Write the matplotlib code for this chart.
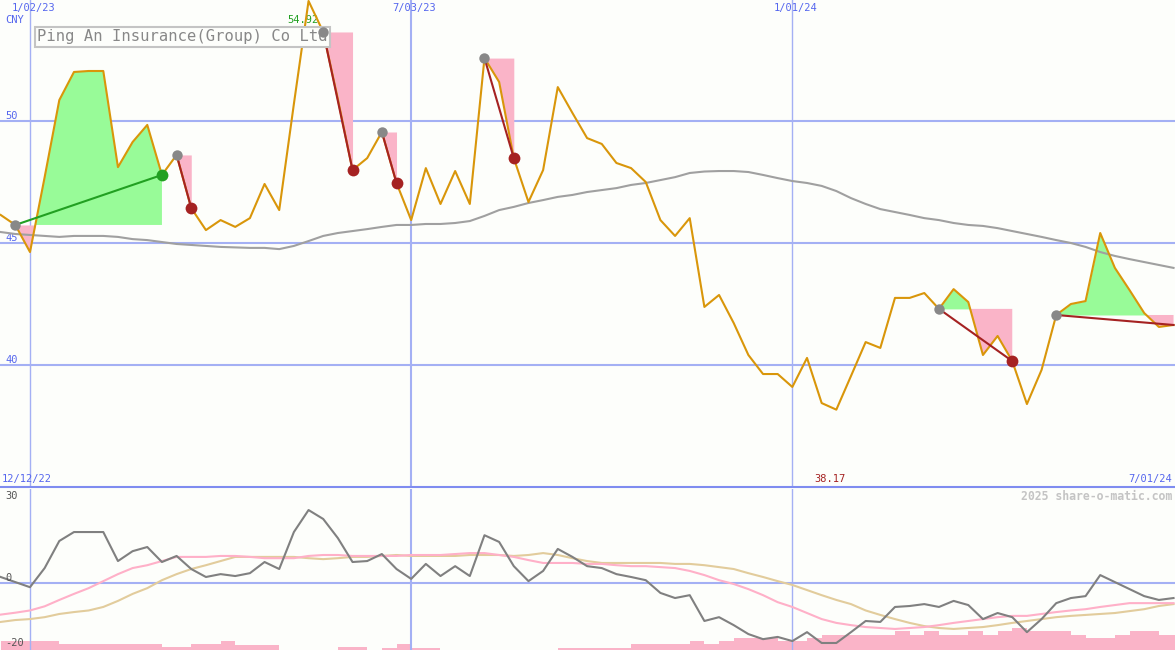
import numpy as np
import pandas as pd
import matplotlib
matplotlib.use("Agg")
import matplotlib.pyplot as plt
import matplotlib.dates as mdates
from matplotlib.lines import Line2D
from matplotlib.transforms import blended_transform_factory

# weekly closes, Ping An Insurance (CNY)
weeks = pd.date_range("2022-12-19", periods=81, freq="7D")

price = [46.15, 45.74, 44.63, 47.70, 50.86, 52.01, 52.05, 52.05, 48.11, 49.14,
         49.84, 47.79, 48.61, 46.43, 45.53, 45.94, 45.66, 46.02, 47.42, 46.35,
         50.70, 54.92, 53.65, 50.90, 47.99, 48.48, 49.55, 47.46, 45.94, 48.07,
         46.60, 47.95, 46.60, 52.58, 51.60, 48.48, 46.68, 47.99, 51.39, 50.33,
         49.30, 49.06, 48.28, 48.07, 47.50, 45.94, 45.29, 46.02, 42.38, 42.87,
         41.72, 40.41, 39.63, 39.63, 39.10, 40.29, 38.44, 38.17, 39.55, 40.94,
         40.70, 42.75, 42.75, 42.95, 42.30, 43.11, 42.58, 40.41, 41.19, 40.16,
         38.40, 39.80, 42.05, 42.50, 42.62, 45.41, 43.98, 43.07, 42.13, 41.56, 41.64]

ma_long = [45.45, 45.37, 45.33, 45.29, 45.25, 45.29, 45.29, 45.29, 45.25, 45.16,
           45.12, 45.04, 44.96, 44.92, 44.88, 44.84, 44.82, 44.80, 44.80, 44.75,
           44.88, 45.08, 45.29, 45.41, 45.49, 45.57, 45.66, 45.74, 45.74, 45.78,
           45.78, 45.82, 45.90, 46.11, 46.35, 46.48, 46.64, 46.76, 46.89, 46.97,
           47.09, 47.17, 47.25, 47.38, 47.46, 47.58, 47.70, 47.87, 47.93, 47.95,
           47.95, 47.91, 47.79, 47.66, 47.54, 47.46, 47.34, 47.13, 46.84, 46.60,
           46.39, 46.27, 46.15, 46.02, 45.94, 45.82, 45.74, 45.70, 45.61, 45.49,
           45.37, 45.25, 45.12, 45.00, 44.84, 44.63, 44.47, 44.34, 44.22, 44.10, 43.98]

osc = [1.9, 0.3, -1.3, 4.7, 13.2, 16.0, 16.0, 16.0, 6.9, 10.0,
       11.3, 6.6, 8.5, 4.4, 1.9, 2.8, 2.2, 3.1, 6.6, 4.4,
       16.0, 22.9, 20.1, 14.1, 6.6, 6.9, 9.1, 4.4, 1.3, 6.0,
       2.2, 5.3, 2.2, 15.0, 12.9, 5.3, 0.6, 3.8, 10.7, 8.2,
       5.3, 4.7, 2.8, 1.9, 0.9, -3.1, -4.7, -3.8, -11.9, -10.7,
       -13.2, -16.0, -17.6, -16.9, -18.2, -15.4, -18.8, -18.8, -15.4, -11.9,
       -12.2, -7.5, -7.2, -6.6, -7.5, -5.6, -6.9, -11.3, -9.4, -10.7,
       -15.4, -11.3, -6.3, -4.7, -4.1, 2.5, 0.3, -1.9, -4.1, -5.3, -4.7]

osc_fast = [-9.9, -9.3, -8.6, -7.3, -5.3, -3.4, -1.6, 0.6, 2.8, 4.7,
            5.6, 6.9, 8.2, 8.2, 8.2, 8.5, 8.5, 8.2, 7.8, 7.8,
            7.8, 8.5, 8.8, 8.8, 8.5, 8.5, 8.5, 8.5, 8.8, 8.8,
            8.8, 9.1, 9.4, 9.4, 8.8, 8.2, 7.2, 6.3, 6.3, 6.3,
            6.0, 6.0, 5.6, 5.3, 5.3, 5.0, 4.7, 3.8, 2.5, 0.9,
            -0.3, -1.9, -3.8, -6.0, -7.5, -9.4, -11.3, -12.5, -13.2, -13.8,
            -14.1, -14.4, -14.1, -13.8, -13.2, -12.5, -11.9, -11.3, -10.7, -10.3,
            -10.3, -9.7, -9.1, -8.6, -8.2, -7.5, -6.9, -6.3, -6.3, -6.3, -6.3]

osc_slow = [-12.2, -11.6, -11.3, -10.7, -9.7, -9.1, -8.6, -7.5, -5.6, -3.4,
            -1.6, 0.9, 2.8, 4.4, 5.6, 6.9, 8.2, 8.2, 8.2, 8.2,
            8.2, 7.8, 7.5, 7.8, 8.2, 8.2, 8.5, 8.8, 8.5, 8.5,
            8.5, 8.5, 8.8, 8.8, 8.8, 8.5, 8.8, 9.4, 8.8, 7.8,
            6.9, 6.3, 6.3, 6.3, 6.3, 6.3, 6.0, 6.0, 5.6, 5.0,
            4.4, 3.1, 1.9, 0.6, -0.6, -2.2, -3.8, -5.3, -6.6, -8.6,
            -10.0, -11.3, -12.5, -13.5, -14.1, -14.4, -14.1, -13.8, -13.2, -12.5,
            -11.9, -11.3, -10.7, -10.3, -10.0, -9.7, -9.4, -8.8, -8.2, -7.2, -6.6]

# relative volume
volume = [9, 9, 9, 9, 6, 6, 6, 6, 6, 6,
          6, 3, 3, 6, 6, 9, 5, 5, 5, 0,
          0, 0, 0, 3, 3, 0, 2.5, 6, 2, 2,
          0, 0, 0, 0, 0, 0, 0, 0, 2, 2,
          2, 2, 2, 6, 6, 6, 6, 9, 6, 9,
          12, 12, 12, 9, 9, 12, 15, 15, 15, 15,
          15, 19, 15, 19, 15, 15, 19, 15, 19, 22,
          19, 19, 19, 15, 12, 12, 15, 19, 19, 15, 15]

# trade signals (index into weeks); last one still open
entries = [1, 12, 22, 26, 33, 64, 72]
exits = [11, 13, 24, 27, 35, 69, 80]
open_last = True

grid_dates = ["2023-01-02", "2023-07-03", "2024-01-01"]
grid_labels = ["1/02/23", "7/03/23", "1/01/24"]
grid_widths = [1.0, 1.5, 1.0]
range_labels = ["12/12/22", "7/01/24"]
price_levels = [40, 45, 50]
osc_labels = ["30", "0", "-20"]

BG = "#fdfefb"
BLUE = "#5566ee"
GRID = "#a4b0f4"
MONO = "DejaVu Sans Mono"
FS = 7.5

x = mdates.date2num(weeks)
price = np.array(price)

W, H = 1175, 650
fig = plt.figure(figsize=(W / 100, H / 100), dpi=100, facecolor=BG)
ax = fig.add_axes([0, 1 - 487 / H, 1, 487 / H], facecolor=BG)
axv = fig.add_axes([0, 0, 1, 161 / H], facecolor=BG)
axo = fig.add_axes([0, 0, 1, 161 / H], facecolor="none")

xlim = (x[0] - 0.32, x[-1] + 0.7)
for a in (ax, axv, axo):
    a.set_xlim(*xlim)
    a.set_xticks([])
    a.set_yticks([])
    for s in a.spines.values():
        s.set_visible(False)

ax.set_ylim(35.0, 54.96)
axo.set_ylim(-21, 29.5)
axv.set_ylim(0, 161)

# grid
for lv in price_levels:
    ax.axhline(lv, color=GRID, lw=1.5, zorder=1)
    ax.text(5 / W, lv, str(lv), transform=blended_transform_factory(ax.transAxes, ax.transData),
            color=BLUE, fontsize=FS, family=MONO, va="bottom", ha="left")
axo.axhline(0, color=GRID, lw=1.5, zorder=1)
top_tr = blended_transform_factory(ax.transData, ax.transAxes)
for d, lab, lw in zip(grid_dates, grid_labels, grid_widths):
    dn = mdates.date2num(pd.Timestamp(d))
    ax.axvline(dn, color=GRID, lw=lw, zorder=1)
    axo.axvline(dn, color=GRID, lw=lw, zorder=1)
    ax.text(dn + 1.5, 1 - 8 / 487, lab, transform=top_tr, color=BLUE, fontsize=FS,
            family=MONO, ha="center", va="center")

fig.add_artist(Line2D([0, 1], [1 - 487 / H, 1 - 487 / H], color="#7f8cf0", lw=1.5,
                      transform=fig.transFigure))

# signal fills
for s, e in zip(entries, exits):
    seg_x = x[s:e + 1]
    seg_p = price[s:e + 1]
    lvl = price[s]
    ax.fill_between(seg_x, seg_p, lvl, where=seg_p >= lvl, interpolate=True,
                    color="#98fb98", lw=0, zorder=2)
    ax.fill_between(seg_x, seg_p, lvl, where=seg_p <= lvl, interpolate=True,
                    color="#fab4c8", lw=0, zorder=2)

ax.plot(x, ma_long, color="#a0a0a0", lw=1.5, zorder=3)
ax.plot(x, price, color="#d9960a", lw=1.5, zorder=4)

# signal links and dots
for i, (s, e) in enumerate(zip(entries, exits)):
    gain = price[e] > price[s]
    col = "#22a022" if gain else "#a52222"
    ax.plot([x[s], x[e]], [price[s], price[e]], color=col, lw=1.5, zorder=5)
    ax.plot(x[s], price[s], "o", color="#888888", ms=7.5, mew=0, zorder=6)
    if not (open_last and i == len(entries) - 1):
        ax.plot(x[e], price[e], "o", color=col, ms=8.5, mew=0, zorder=6)

# extremes
imax = int(np.argmax(price))
imin = int(np.argmin(price))
ax.annotate(f"{price[imax]:.2f}", (x[imax], 1 - 20 / 487), xycoords=top_tr,
            xytext=(-6, 0), textcoords="offset pixels", color="#22a022",
            fontsize=FS, family=MONO, ha="center", va="center")
ax.annotate(f"{price[imin]:.2f}", (x[imin], 8 / 487), xycoords=top_tr,
            xytext=(-6, 0), textcoords="offset pixels", color="#a52222",
            fontsize=FS, family=MONO, ha="center", va="center")

# labels
ax.text(5 / W, 1 - 20 / 487, "CNY", transform=ax.transAxes, color=BLUE, fontsize=FS,
        family=MONO, va="center", ha="left")
ax.text(2 / W, 8 / 487, range_labels[0], transform=ax.transAxes, color=BLUE,
        fontsize=FS, family=MONO, va="center", ha="left")
ax.text(1 - 3 / W, 8 / 487, range_labels[1], transform=ax.transAxes, color=BLUE,
        fontsize=FS, family=MONO, va="center", ha="right")
ax.text(37 / W, 1 - 37 / 487, "Ping An Insurance(Group) Co Ltd", transform=ax.transAxes,
        color="#888888", fontsize=11.2, family=MONO, va="center", ha="left", zorder=5.5,
        bbox=dict(boxstyle="square,pad=0.15", fc=BG, ec="#c4c4c4", lw=1.5))

# lower panel
axv.bar(x, volume, width=7, align="edge", color="#fab4c8", lw=0)
axo.plot(x, osc_slow, color="#e2cc9c", lw=1.5, zorder=3)
axo.plot(x, osc_fast, color="#ffb0c8", lw=1.5, zorder=3)
axo.plot(x, osc, color="#808080", lw=1.5, zorder=4)
for val, yp in zip(osc_labels, [496, 578, 643]):
    fig.text(5 / W, 1 - yp / H, val, color="#555555", fontsize=FS, family=MONO,
             va="center", ha="left")
fig.text(1 - 3 / W, 1 - 496 / H, "2025 share-o-matic.com", color="#c4c4c4",
         fontsize=8.3, family=MONO, weight="bold", va="center", ha="right")

fig.savefig("out.png", dpi=100, facecolor=BG)
